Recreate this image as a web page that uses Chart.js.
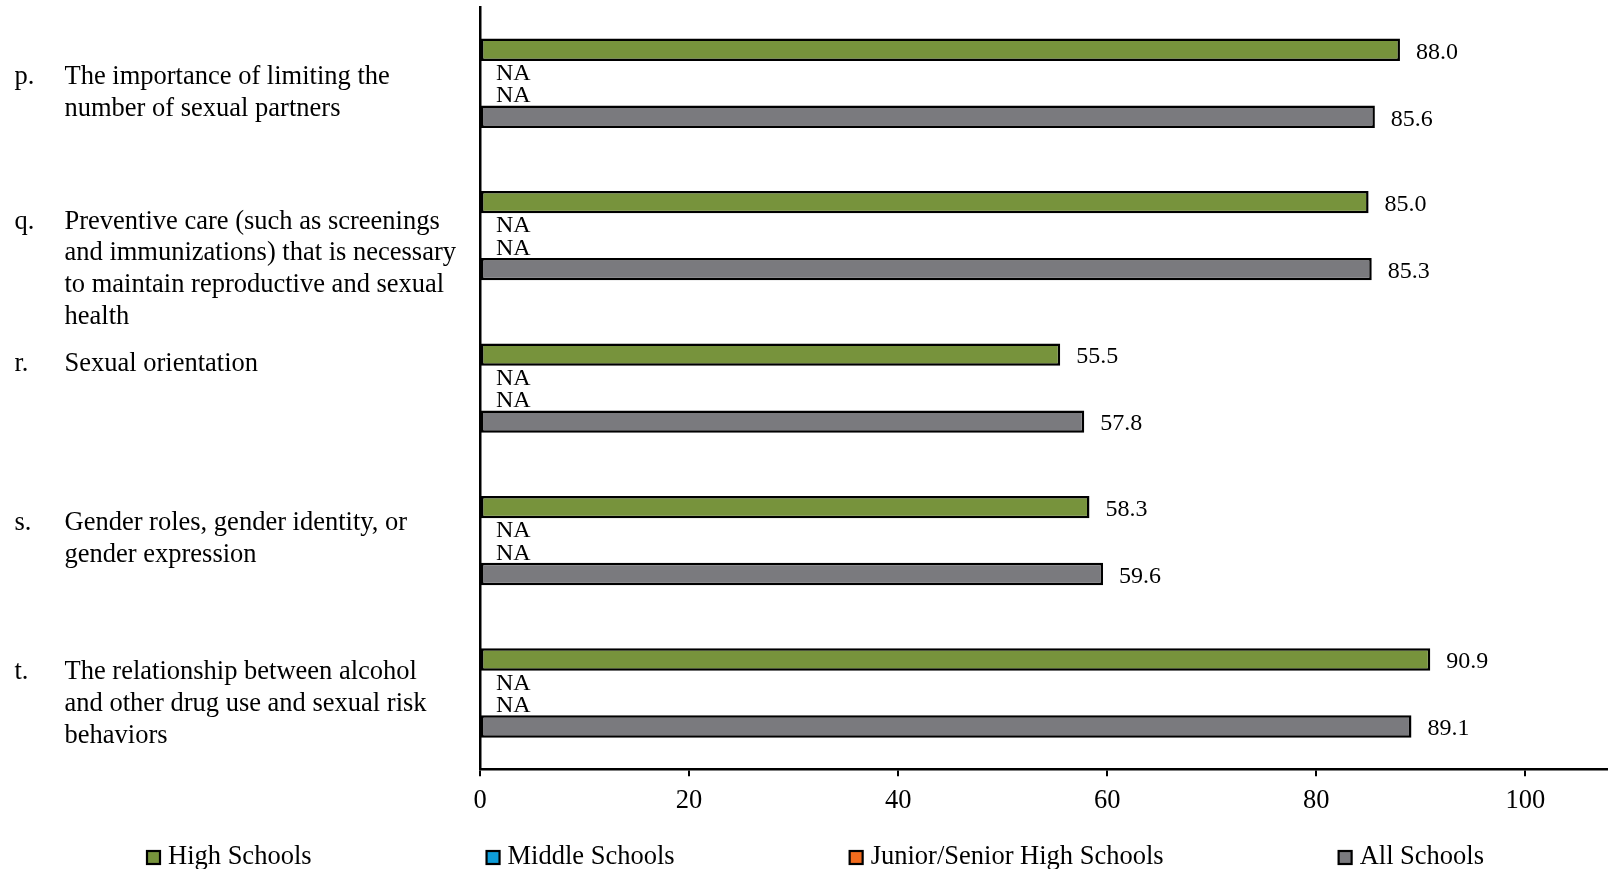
<!DOCTYPE html>
<html><head><meta charset="utf-8">
<script src="https://cdn.jsdelivr.net/npm/chart.js@4.4.1/dist/chart.umd.min.js"></script>
<style>html,body{margin:0;padding:0;background:#fff;overflow:hidden}#wrap{width:1608px;height:869px;position:relative}</style>
</head><body><div id="wrap"><canvas id="c"></canvas></div>
<script>
const letters = ['p.', 'q.', 'r.', 's.', 't.'];
const categories = [
  ['The importance of limiting the', 'number of sexual partners'],
  ['Preventive care (such as screenings', 'and immunizations) that is necessary', 'to maintain reproductive and sexual', 'health'],
  ['Sexual orientation'],
  ['Gender roles, gender identity, or', 'gender expression'],
  ['The relationship between alcohol', 'and other drug use and sexual risk', 'behaviors']
];
const seriesNames = ['High Schools', 'Middle Schools', 'Junior/Senior High Schools', 'All Schools'];
const highSchools = [88.0, 85.0, 55.5, 58.3, 90.9];
const middleSchools = [null, null, null, null, null];
const juniorSeniorSchools = [null, null, null, null, null];
const allSchools = [85.6, 85.3, 57.8, 59.6, 89.1];
const xTicks = [0, 20, 40, 60, 80, 100];

const colors = ['#77933C', '#0E9DD9', '#F26B1D', '#7A7A7E'];
const labelShift = [-5.7, -14, -24.3, -17.4, -21];
const FONT = 'Liberation Serif';

const catLabelsPlugin = {
  id: 'catLabels',
  afterDraw(chart) {
    const ctx = chart.ctx, ys = chart.scales.y;
    ctx.save();
    ctx.fillStyle = '#000';
    ctx.font = '26.5px "' + FONT + '"';
    ctx.textBaseline = 'middle';
    ctx.textAlign = 'left';
    chart.data.labels.forEach((lines, i) => {
      const y0 = ys.getPixelForValue(i) + labelShift[i];
      ctx.fillText(letters[i], 14.5, y0);
      lines.forEach((ln, k) => ctx.fillText(ln, 64.5, y0 + k * 31.8));
    });
    ctx.restore();
  }
};

const valueLabelsPlugin = {
  id: 'valueLabels',
  afterDatasetsDraw(chart) {
    const ctx = chart.ctx, xs = chart.scales.x;
    ctx.save();
    ctx.fillStyle = '#000';
    ctx.font = '24px "' + FONT + '"';
    ctx.textBaseline = 'middle';
    ctx.textAlign = 'left';
    chart.data.datasets.forEach((ds, di) => {
      const meta = chart.getDatasetMeta(di);
      meta.data.forEach((bar, i) => {
        const v = ds.data[i];
        if (v == null) {
          ctx.fillText('NA', xs.getPixelForValue(0) + 16, bar.y + 1.5);
        } else {
          ctx.fillText(v.toFixed(1), bar.x + 16, bar.y + 2.5);
        }
      });
    });
    ctx.restore();
  }
};

const legendPlugin = {
  id: 'customLegend',
  afterDraw(chart) {
    const ctx = chart.ctx;
    ctx.save();
    ctx.font = '26.5px "' + FONT + '"';
    ctx.textBaseline = 'alphabetic';
    ctx.textAlign = 'left';
    let x = 147;
    const base = 864;
    chart.data.datasets.forEach(ds => {
      ctx.fillStyle = ds.backgroundColor;
      ctx.fillRect(x, 851, 13, 13);
      ctx.strokeStyle = '#000';
      ctx.lineWidth = 2.2;
      ctx.strokeRect(x, 851, 13, 13);
      ctx.fillStyle = '#000';
      ctx.fillText(ds.label, x + 21, base);
      x += 21 + ctx.measureText(ds.label).width + 175;
    });
    ctx.restore();
  }
};

const seriesData = [highSchools, middleSchools, juniorSeniorSchools, allSchools];

new Chart(document.getElementById('c'), {
  type: 'bar',
  data: {
    labels: categories,
    datasets: seriesNames.map((name, i) => ({
      label: name,
      data: seriesData[i],
      backgroundColor: colors[i],
      borderColor: '#000',
      borderWidth: 2.5,
      borderSkipped: false,
      categoryPercentage: 0.586,
      barPercentage: 1.0
    }))
  },
  options: {
    indexAxis: 'y',
    responsive: true,
    maintainAspectRatio: false,
    animation: false,
    layout: { padding: { top: 7, bottom: 43, left: 0, right: 0 } },
    plugins: { legend: { display: false }, tooltip: { enabled: false } },
    scales: {
      x: {
        type: 'linear',
        min: 0,
        max: 107.9,
        afterBuildTicks: s => { s.ticks = xTicks.map(v => ({ value: v })); },
        ticks: { color: '#000', font: { family: FONT, size: 26.5 }, padding: 9 },
        grid: { display: true, drawOnChartArea: false, drawTicks: true, tickLength: 7, color: '#000', lineWidth: 2 },
        border: { display: true, color: '#000', width: 2.5 }
      },
      y: {
        ticks: { display: false },
        grid: { display: false, drawTicks: false },
        border: { display: true, color: '#000', width: 2.5 },
        afterFit: s => { s.width = 480; }
      }
    }
  },
  plugins: [catLabelsPlugin, valueLabelsPlugin, legendPlugin]
});
</script>
</body></html>
